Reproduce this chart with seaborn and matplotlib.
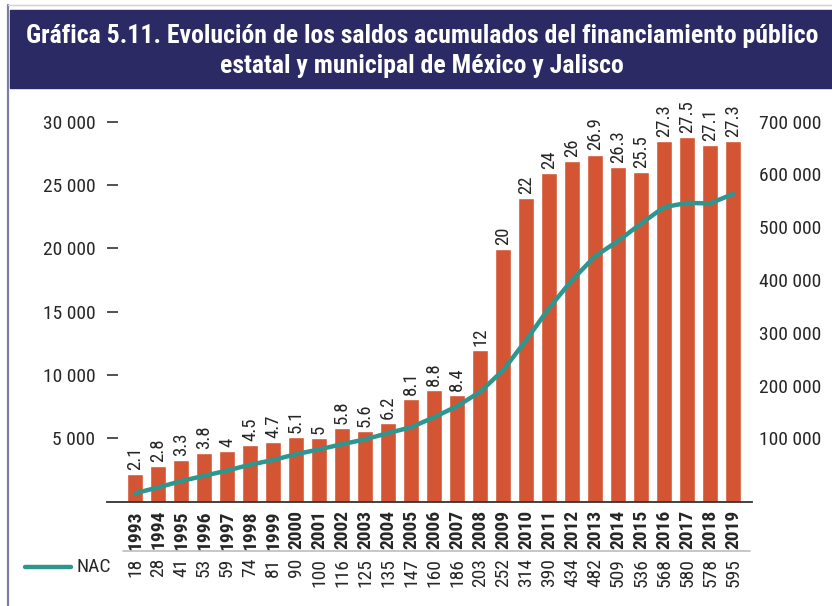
import matplotlib
matplotlib.use("Agg")
import matplotlib.pyplot as plt
from matplotlib.lines import Line2D
from matplotlib.patches import Rectangle
from matplotlib.transforms import blended_transform_factory
import seaborn as sns
import pandas as pd

years = [str(y) for y in range(1993, 2020)]
# altura de las barras (Jalisco) leída sobre el eje izquierdo
jal_bar = [2190, 2820, 3290, 3840, 4000, 4470, 4710, 5100, 5030, 5820, 5580, 6210,
           8100, 8820, 8420, 11970, 19940, 23970, 25940, 26900, 27400, 26400, 26000,
           28460, 28760, 28150, 28460]
# etiquetas sobre las barras
jal_lbl = ['2.1', '2.8', '3.3', '3.8', '4', '4.5', '4.7', '5.1', '5', '5.8', '5.6', '6.2',
           '8.1', '8.8', '8.4', '12', '20', '22', '24', '26', '26.9', '26.3', '25.5',
           '27.3', '27.5', '27.1', '27.3']
# curva nacional leída sobre el eje derecho
nac_line = [-4000, 7000, 19000, 29000, 39000, 50000, 59000, 70000, 79000, 89000, 98000,
            110000, 121000, 140000, 161000, 188000, 229000, 286000, 347000, 400000,
            445000, 474000, 507000, 538000, 546000, 545000, 563000]
nac_lbl = ['18', '28', '41', '53', '59', '74', '81', '90', '100', '116', '125', '135',
           '147', '160', '186', '203', '252', '314', '390', '434', '482', '509', '536',
           '568', '580', '578', '595']

left_ticks = [5000, 10000, 15000, 20000, 25000, 30000]
right_ticks = [100000, 200000, 300000, 400000, 500000, 600000, 700000]

bar_color = '#D35533'
line_color = '#2E968F'
navy = '#2B2A64'

sns.set_style('white')
plt.rcParams['font.family'] = ['Roboto Condensed', 'Liberation Sans', 'DejaVu Sans']

df = pd.DataFrame({'year': years, 'jal': jal_bar, 'nac': nac_line})

fig = plt.figure(figsize=(8.32, 6.06), dpi=100)
ax = fig.add_axes([107 / 832, 1 - 501.7 / 606, 645 / 832, 401.7 / 606])

sns.barplot(data=df, x='year', y='jal', color=bar_color, width=0.7, saturation=1, ax=ax)
ax.set_xlim(-1.22, 26.82)
ax.set_ylim(0, 31705)
ax.bar_label(ax.containers[0], labels=jal_lbl, rotation=90, padding=3, fontsize=13.5)

ax.set_yticks(left_ticks)
ax.set_yticklabels([f"{v:,}".replace(',', ' ') for v in left_ticks], fontsize=14)
ax.tick_params(axis='y', direction='in', length=8, width=1.1, color='#222222', pad=8.5, left=True)
ax.tick_params(axis='x', length=0, pad=6)
ax.set_xticks(range(len(years)))
ax.set_xticklabels(years, rotation=90, fontsize=14, fontweight='bold')
ax.set_xlabel('')
ax.set_ylabel('')
for s in ['left', 'right', 'top']:
    ax.spines[s].set_visible(False)
ax.spines['bottom'].set_color('#333333')
ax.spines['bottom'].set_linewidth(1.3)

ax2 = ax.twinx()
sns.lineplot(x=range(len(years)), y=nac_line, color=line_color, linewidth=3.2, ax=ax2)
ax2.set_ylim(-20000, 24 * 31705 - 20000)
ax2.set_yticks(right_ticks)
ax2.set_yticklabels([f"{v:,}".replace(',', ' ') for v in right_ticks], fontsize=14)
ax2.tick_params(axis='y', length=0, pad=5)
for s in ['left', 'right', 'top', 'bottom']:
    ax2.spines[s].set_visible(False)
ax2.set_xlim(-1.22, 26.82)

# valores nacionales bajo los años
trans = blended_transform_factory(ax.transData, fig.transFigure)
for i, lbl in enumerate(nac_lbl):
    ax.text(i, 1 - 558 / 606, lbl, transform=trans, rotation=90,
            ha='center', va='top', fontsize=14)

# línea separadora gris
fig.add_artist(Line2D([123 / 832, 750 / 832], [1 - 551 / 606] * 2, color='#bdbdbd', lw=1.2))

# leyenda manual
fig.add_artist(Line2D([25 / 832, 71 / 832], [1 - 567 / 606] * 2, color=line_color, lw=3.2))
fig.text(77 / 832, 1 - 567 / 606, 'NAC', ha='left', va='center', fontsize=14)

# marco y banda del título
fig.add_artist(Line2D([8 / 832, 8 / 832], [0, 1 - 5 / 606], color='#7d7da6', lw=1.6))
fig.add_artist(Line2D([8 / 832, 1], [1 - 5 / 606] * 2, color='#d0d0dc', lw=1))
fig.add_artist(Rectangle((10 / 832, 1 - 88 / 606), 822 / 832, 78 / 606,
                         transform=fig.transFigure, color=navy, zorder=0))
fig.text(422 / 832, 1 - 51 / 606,
         'Gráfica 5.11. Evolución de los saldos acumulados del financiamiento público\n'
         'estatal y municipal de México y Jalisco',
         ha='center', va='center', color='white', fontsize=18.5, fontweight='bold',
         linespacing=1.35)

plt.savefig('out.png', dpi=100)
